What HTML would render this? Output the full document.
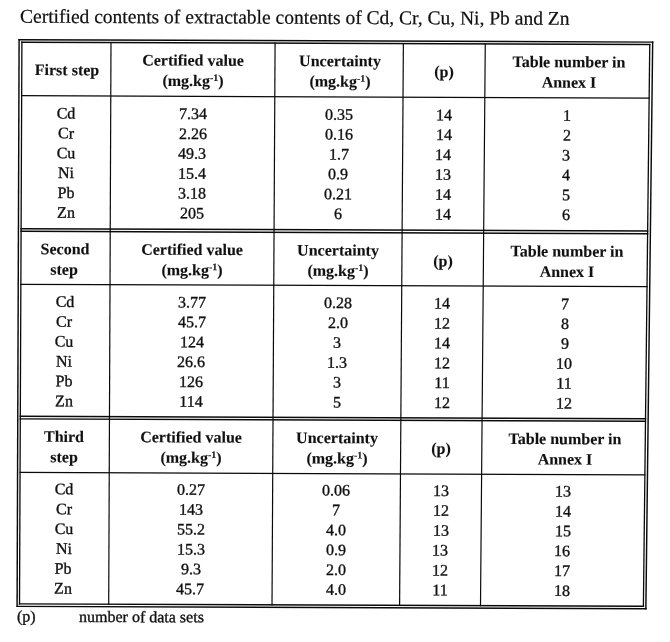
<!DOCTYPE html>
<html><head><meta charset="utf-8"><title>Certified contents</title>
<style>
html,body{margin:0;padding:0;background:#fff;}
body{width:670px;height:642px;position:relative;overflow:hidden;font-family:"Liberation Serif",serif;color:#111;}
.ln{position:absolute;left:0;top:0;}
.tx{position:absolute;left:0;top:0;width:670px;height:642px;opacity:0.999;will-change:opacity;}
.ln line{stroke:#0a0a0a;stroke-linecap:square;}
.t{-webkit-text-stroke:0.35px #111;position:absolute;white-space:nowrap;font-size:16px;line-height:20px;transform-origin:50% 77%;}
.b{font-weight:bold;-webkit-text-stroke:0.12px #111;}
sup{font-size:10px;line-height:0;vertical-align:baseline;position:relative;top:-5.2px;-webkit-text-stroke:0.15px #111;}
</style></head><body>
<svg class="ln" width="670" height="642" viewBox="0 0 670 642"><line x1="19.10" y1="39.70" x2="652.67" y2="42.10" stroke-width="1.45"/><line x1="17.10" y1="606.39" x2="645.87" y2="608.78" stroke-width="1.45"/><line x1="19.10" y1="39.70" x2="17.10" y2="606.39" stroke-width="1.45"/><line x1="652.67" y1="42.10" x2="645.87" y2="608.78" stroke-width="1.45"/><line x1="21.89" y1="42.21" x2="649.75" y2="44.59" stroke-width="1.45"/><line x1="21.10" y1="228.71" x2="647.64" y2="231.08" stroke-width="1.45"/><line x1="21.09" y1="231.31" x2="647.61" y2="233.68" stroke-width="1.45"/><line x1="20.30" y1="416.30" x2="645.52" y2="418.68" stroke-width="1.45"/><line x1="20.29" y1="418.90" x2="645.49" y2="421.28" stroke-width="1.45"/><line x1="19.51" y1="603.90" x2="643.40" y2="606.27" stroke-width="1.45"/><line x1="21.89" y1="42.21" x2="19.51" y2="603.90" stroke-width="1.30"/><line x1="649.75" y1="44.59" x2="643.40" y2="606.27" stroke-width="1.30"/><line x1="21.66" y1="95.71" x2="649.14" y2="98.09" stroke-width="1.25"/><line x1="20.86" y1="284.31" x2="647.01" y2="286.68" stroke-width="1.25"/><line x1="20.07" y1="472.40" x2="644.88" y2="474.77" stroke-width="1.25"/><line x1="110.99" y1="42.55" x2="108.71" y2="604.24" stroke-width="1.20"/><line x1="275.08" y1="43.17" x2="272.01" y2="604.86" stroke-width="1.20"/><line x1="403.38" y1="43.66" x2="399.60" y2="605.34" stroke-width="1.20"/><line x1="485.27" y1="43.97" x2="480.50" y2="605.65" stroke-width="1.20"/></svg>
<div class="tx">
<div class="t b" style="left:66.60px;top:60px;transform:translate(-50%,0.21px) rotate(0.22deg);">First step</div>
<div class="t b" style="left:192.93px;top:50px;transform:translate(-50%,0.58px) rotate(0.22deg);">Certified value</div>
<div class="t b" style="left:192.83px;top:70px;transform:translate(-50%,0.98px) rotate(0.22deg);">(mg.kg<sup>-1</sup>)</div>
<div class="t b" style="left:339.70px;top:51px;transform:translate(-50%,0.24px) rotate(0.22deg);">Uncertainty</div>
<div class="t b" style="left:339.57px;top:71px;transform:translate(-50%,0.64px) rotate(0.22deg);">(mg.kg<sup>-1</sup>)</div>
<div class="t b" style="left:444.08px;top:61px;transform:translate(-50%,0.91px) rotate(0.22deg);">(p)</div>
<div class="t b" style="left:568.80px;top:52px;transform:translate(-50%,0.27px) rotate(0.22deg);">Table number in</div>
<div class="t b" style="left:568.60px;top:72px;transform:translate(-50%,0.67px) rotate(0.22deg);">Annex I</div>
<div class="t" style="left:66.12px;top:103px;transform:translate(-50%,0.50px) rotate(0.22deg);">Cd</div>
<div class="t" style="left:192.68px;top:104px;transform:translate(-50%,0.07px) rotate(0.22deg);">7.34</div>
<div class="t" style="left:338.77px;top:104px;transform:translate(-50%,0.73px) rotate(0.22deg);">0.35</div>
<div class="t" style="left:443.76px;top:105px;transform:translate(-50%,0.20px) rotate(0.22deg);">14</div>
<div class="t" style="left:566.78px;top:105px;transform:translate(-50%,0.75px) rotate(0.22deg);">1</div>
<div class="t" style="left:66.04px;top:123px;transform:translate(-50%,0.37px) rotate(0.22deg);">Cr</div>
<div class="t" style="left:192.58px;top:123px;transform:translate(-50%,0.94px) rotate(0.22deg);">2.26</div>
<div class="t" style="left:338.65px;top:124px;transform:translate(-50%,0.60px) rotate(0.22deg);">0.16</div>
<div class="t" style="left:443.60px;top:125px;transform:translate(-50%,0.07px) rotate(0.22deg);">14</div>
<div class="t" style="left:566.58px;top:125px;transform:translate(-50%,0.62px) rotate(0.22deg);">2</div>
<div class="t" style="left:65.96px;top:143px;transform:translate(-50%,0.24px) rotate(0.22deg);">Cu</div>
<div class="t" style="left:192.49px;top:143px;transform:translate(-50%,0.81px) rotate(0.22deg);">49.3</div>
<div class="t" style="left:338.53px;top:144px;transform:translate(-50%,0.47px) rotate(0.22deg);">1.7</div>
<div class="t" style="left:443.45px;top:144px;transform:translate(-50%,0.94px) rotate(0.22deg);">14</div>
<div class="t" style="left:566.38px;top:145px;transform:translate(-50%,0.49px) rotate(0.22deg);">3</div>
<div class="t" style="left:65.88px;top:163px;transform:translate(-50%,0.11px) rotate(0.22deg);">Ni</div>
<div class="t" style="left:192.39px;top:163px;transform:translate(-50%,0.68px) rotate(0.22deg);">15.4</div>
<div class="t" style="left:338.41px;top:164px;transform:translate(-50%,0.34px) rotate(0.22deg);">0.9</div>
<div class="t" style="left:443.30px;top:164px;transform:translate(-50%,0.81px) rotate(0.22deg);">13</div>
<div class="t" style="left:566.19px;top:165px;transform:translate(-50%,0.36px) rotate(0.22deg);">4</div>
<div class="t" style="left:65.79px;top:182px;transform:translate(-50%,0.98px) rotate(0.22deg);">Pb</div>
<div class="t" style="left:192.30px;top:183px;transform:translate(-50%,0.55px) rotate(0.22deg);">3.18</div>
<div class="t" style="left:338.29px;top:184px;transform:translate(-50%,0.21px) rotate(0.22deg);">0.21</div>
<div class="t" style="left:443.15px;top:184px;transform:translate(-50%,0.68px) rotate(0.22deg);">14</div>
<div class="t" style="left:565.99px;top:185px;transform:translate(-50%,0.23px) rotate(0.22deg);">5</div>
<div class="t" style="left:65.71px;top:202px;transform:translate(-50%,0.85px) rotate(0.22deg);">Zn</div>
<div class="t" style="left:192.20px;top:203px;transform:translate(-50%,0.42px) rotate(0.22deg);">205</div>
<div class="t" style="left:338.17px;top:204px;transform:translate(-50%,0.07px) rotate(0.22deg);">6</div>
<div class="t" style="left:443.00px;top:204px;transform:translate(-50%,0.55px) rotate(0.22deg);">14</div>
<div class="t" style="left:565.79px;top:205px;transform:translate(-50%,0.10px) rotate(0.22deg);">6</div>
<div class="t b" style="left:64.56px;top:239px;transform:translate(-50%,0.31px) rotate(0.22deg);">Second</div>
<div class="t b" style="left:64.48px;top:259px;transform:translate(-50%,0.70px) rotate(0.22deg);">step</div>
<div class="t b" style="left:192.03px;top:239px;transform:translate(-50%,0.88px) rotate(0.22deg);">Certified value</div>
<div class="t b" style="left:191.93px;top:260px;transform:translate(-50%,0.28px) rotate(0.22deg);">(mg.kg<sup>-1</sup>)</div>
<div class="t b" style="left:338.34px;top:240px;transform:translate(-50%,0.54px) rotate(0.22deg);">Uncertainty</div>
<div class="t b" style="left:338.22px;top:260px;transform:translate(-50%,0.94px) rotate(0.22deg);">(mg.kg<sup>-1</sup>)</div>
<div class="t b" style="left:442.65px;top:251px;transform:translate(-50%,0.21px) rotate(0.22deg);">(p)</div>
<div class="t b" style="left:566.93px;top:241px;transform:translate(-50%,0.57px) rotate(0.22deg);">Table number in</div>
<div class="t b" style="left:566.73px;top:261px;transform:translate(-50%,0.96px) rotate(0.22deg);">Annex I</div>
<div class="t" style="left:64.54px;top:291px;transform:translate(-50%,0.89px) rotate(0.22deg);">Cd</div>
<div class="t" style="left:191.78px;top:292px;transform:translate(-50%,0.47px) rotate(0.22deg);">3.77</div>
<div class="t" style="left:337.62px;top:293px;transform:translate(-50%,0.12px) rotate(0.22deg);">0.28</div>
<div class="t" style="left:442.32px;top:293px;transform:translate(-50%,0.59px) rotate(0.22deg);">14</div>
<div class="t" style="left:564.91px;top:294px;transform:translate(-50%,0.15px) rotate(0.22deg);">7</div>
<div class="t" style="left:64.46px;top:311px;transform:translate(-50%,0.76px) rotate(0.22deg);">Cr</div>
<div class="t" style="left:191.68px;top:312px;transform:translate(-50%,0.34px) rotate(0.22deg);">45.7</div>
<div class="t" style="left:337.50px;top:312px;transform:translate(-50%,0.99px) rotate(0.22deg);">2.0</div>
<div class="t" style="left:442.17px;top:313px;transform:translate(-50%,0.46px) rotate(0.22deg);">12</div>
<div class="t" style="left:564.71px;top:314px;transform:translate(-50%,0.01px) rotate(0.22deg);">8</div>
<div class="t" style="left:64.38px;top:331px;transform:translate(-50%,0.63px) rotate(0.22deg);">Cu</div>
<div class="t" style="left:191.59px;top:332px;transform:translate(-50%,0.21px) rotate(0.22deg);">124</div>
<div class="t" style="left:337.38px;top:332px;transform:translate(-50%,0.86px) rotate(0.22deg);">3</div>
<div class="t" style="left:442.02px;top:333px;transform:translate(-50%,0.33px) rotate(0.22deg);">14</div>
<div class="t" style="left:564.52px;top:333px;transform:translate(-50%,0.88px) rotate(0.22deg);">9</div>
<div class="t" style="left:64.30px;top:351px;transform:translate(-50%,0.50px) rotate(0.22deg);">Ni</div>
<div class="t" style="left:191.49px;top:352px;transform:translate(-50%,0.07px) rotate(0.22deg);">26.6</div>
<div class="t" style="left:337.26px;top:352px;transform:translate(-50%,0.73px) rotate(0.22deg);">1.3</div>
<div class="t" style="left:441.87px;top:353px;transform:translate(-50%,0.20px) rotate(0.22deg);">12</div>
<div class="t" style="left:564.32px;top:353px;transform:translate(-50%,0.75px) rotate(0.22deg);">10</div>
<div class="t" style="left:64.21px;top:371px;transform:translate(-50%,0.37px) rotate(0.22deg);">Pb</div>
<div class="t" style="left:191.40px;top:371px;transform:translate(-50%,0.94px) rotate(0.22deg);">126</div>
<div class="t" style="left:337.14px;top:372px;transform:translate(-50%,0.60px) rotate(0.22deg);">3</div>
<div class="t" style="left:441.72px;top:373px;transform:translate(-50%,0.07px) rotate(0.22deg);">11</div>
<div class="t" style="left:564.13px;top:373px;transform:translate(-50%,0.62px) rotate(0.22deg);">11</div>
<div class="t" style="left:64.13px;top:391px;transform:translate(-50%,0.24px) rotate(0.22deg);">Zn</div>
<div class="t" style="left:191.30px;top:391px;transform:translate(-50%,0.81px) rotate(0.22deg);">114</div>
<div class="t" style="left:337.02px;top:392px;transform:translate(-50%,0.47px) rotate(0.22deg);">5</div>
<div class="t" style="left:441.57px;top:392px;transform:translate(-50%,0.94px) rotate(0.22deg);">12</div>
<div class="t" style="left:563.93px;top:393px;transform:translate(-50%,0.49px) rotate(0.22deg);">12</div>
<div class="t b" style="left:63.58px;top:426px;transform:translate(-50%,0.90px) rotate(0.22deg);">Third</div>
<div class="t b" style="left:63.50px;top:447px;transform:translate(-50%,0.30px) rotate(0.22deg);">step</div>
<div class="t b" style="left:191.13px;top:427px;transform:translate(-50%,0.47px) rotate(0.22deg);">Certified value</div>
<div class="t b" style="left:191.04px;top:447px;transform:translate(-50%,0.87px) rotate(0.22deg);">(mg.kg<sup>-1</sup>)</div>
<div class="t b" style="left:337.20px;top:428px;transform:translate(-50%,0.13px) rotate(0.22deg);">Uncertainty</div>
<div class="t b" style="left:337.08px;top:448px;transform:translate(-50%,0.53px) rotate(0.22deg);">(mg.kg<sup>-1</sup>)</div>
<div class="t b" style="left:441.22px;top:438px;transform:translate(-50%,0.80px) rotate(0.22deg);">(p)</div>
<div class="t b" style="left:565.08px;top:429px;transform:translate(-50%,0.16px) rotate(0.22deg);">Table number in</div>
<div class="t b" style="left:564.87px;top:449px;transform:translate(-50%,0.56px) rotate(0.22deg);">Annex I</div>
<div class="t" style="left:63.76px;top:479px;transform:translate(-50%,0.29px) rotate(0.22deg);">Cd</div>
<div class="t" style="left:190.88px;top:479px;transform:translate(-50%,0.86px) rotate(0.22deg);">0.27</div>
<div class="t" style="left:336.48px;top:480px;transform:translate(-50%,0.52px) rotate(0.22deg);">0.06</div>
<div class="t" style="left:440.90px;top:480px;transform:translate(-50%,0.99px) rotate(0.22deg);">13</div>
<div class="t" style="left:563.06px;top:481px;transform:translate(-50%,0.54px) rotate(0.22deg);">13</div>
<div class="t" style="left:63.68px;top:499px;transform:translate(-50%,0.16px) rotate(0.22deg);">Cr</div>
<div class="t" style="left:190.79px;top:499px;transform:translate(-50%,0.73px) rotate(0.22deg);">143</div>
<div class="t" style="left:336.36px;top:500px;transform:translate(-50%,0.39px) rotate(0.22deg);">7</div>
<div class="t" style="left:440.75px;top:500px;transform:translate(-50%,0.86px) rotate(0.22deg);">12</div>
<div class="t" style="left:562.86px;top:501px;transform:translate(-50%,0.41px) rotate(0.22deg);">14</div>
<div class="t" style="left:63.60px;top:519px;transform:translate(-50%,0.03px) rotate(0.22deg);">Cu</div>
<div class="t" style="left:190.69px;top:519px;transform:translate(-50%,0.60px) rotate(0.22deg);">55.2</div>
<div class="t" style="left:336.24px;top:520px;transform:translate(-50%,0.26px) rotate(0.22deg);">4.0</div>
<div class="t" style="left:440.60px;top:520px;transform:translate(-50%,0.73px) rotate(0.22deg);">13</div>
<div class="t" style="left:562.66px;top:521px;transform:translate(-50%,0.27px) rotate(0.22deg);">15</div>
<div class="t" style="left:63.52px;top:538px;transform:translate(-50%,0.90px) rotate(0.22deg);">Ni</div>
<div class="t" style="left:190.60px;top:539px;transform:translate(-50%,0.47px) rotate(0.22deg);">15.3</div>
<div class="t" style="left:336.12px;top:540px;transform:translate(-50%,0.13px) rotate(0.22deg);">0.9</div>
<div class="t" style="left:440.45px;top:540px;transform:translate(-50%,0.60px) rotate(0.22deg);">13</div>
<div class="t" style="left:562.47px;top:541px;transform:translate(-50%,0.14px) rotate(0.22deg);">16</div>
<div class="t" style="left:63.43px;top:558px;transform:translate(-50%,0.77px) rotate(0.22deg);">Pb</div>
<div class="t" style="left:190.50px;top:559px;transform:translate(-50%,0.34px) rotate(0.22deg);">9.3</div>
<div class="t" style="left:336.00px;top:559px;transform:translate(-50%,0.99px) rotate(0.22deg);">2.0</div>
<div class="t" style="left:440.30px;top:560px;transform:translate(-50%,0.46px) rotate(0.22deg);">12</div>
<div class="t" style="left:562.27px;top:561px;transform:translate(-50%,0.01px) rotate(0.22deg);">17</div>
<div class="t" style="left:63.35px;top:578px;transform:translate(-50%,0.64px) rotate(0.22deg);">Zn</div>
<div class="t" style="left:190.41px;top:579px;transform:translate(-50%,0.21px) rotate(0.22deg);">45.7</div>
<div class="t" style="left:335.88px;top:579px;transform:translate(-50%,0.86px) rotate(0.22deg);">4.0</div>
<div class="t" style="left:440.15px;top:580px;transform:translate(-50%,0.33px) rotate(0.22deg);">11</div>
<div class="t" style="left:562.07px;top:580px;transform:translate(-50%,0.88px) rotate(0.22deg);">18</div>
<div class="t" style="left:20.30px;top:4px;font-size:19.50px;line-height:24px;-webkit-text-stroke-width:0.22px;transform:translateY(0.70px) rotate(0.22deg);transform-origin:0 77%;">Certified contents of extractable contents of Cd, Cr, Cu, Ni, Pb and Zn</div>
<div class="t" style="left:17.30px;top:606px;transform:translateY(0.60px) rotate(0.22deg);transform-origin:0 77%;">(p)</div>
<div class="t" style="left:78.80px;top:606px;transform:translateY(0.90px) rotate(0.22deg);transform-origin:0 77%;">number of data sets</div>
</div>
</body></html>
